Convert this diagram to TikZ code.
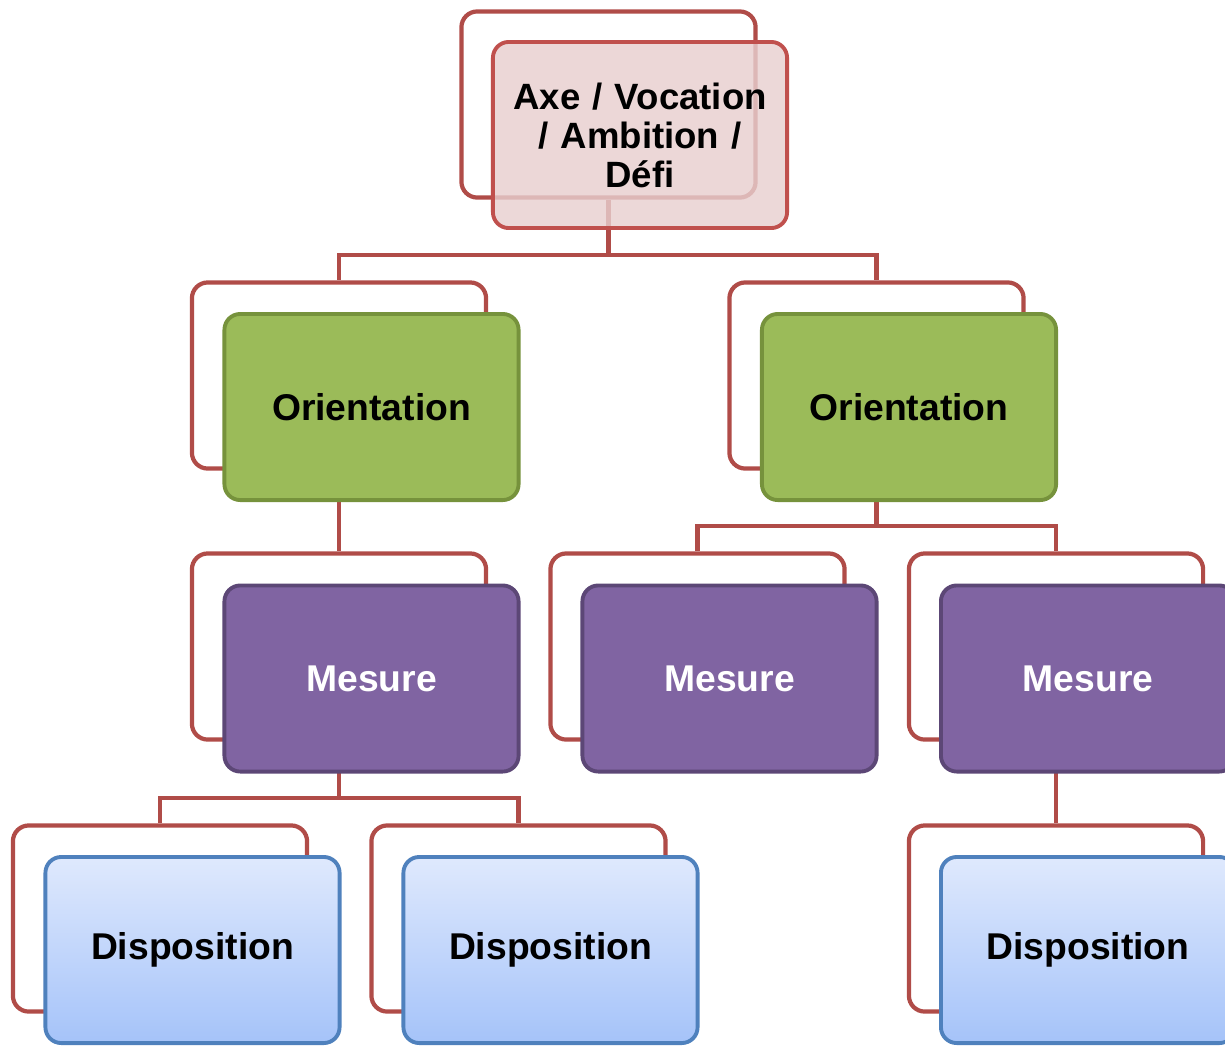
\documentclass[tikz,border=0pt]{standalone}
\usepackage{fontspec}
\setmainfont{Liberation Sans}
\begin{document}
\begin{tikzpicture}[x=0.01cm,y=-0.01cm,
  every node/.style={font=\fontsize{10.6}{10.9}\selectfont\bfseries},
  backframe/.style={draw=framered, line width=1.2pt, fill=white, rounded corners=4.5pt,
    minimum width=2.94cm, minimum height=1.86cm, inner sep=0pt},
  box/.style={rounded corners=4.5pt, minimum width=2.94cm, minimum height=1.86cm,
    line width=1.1pt, align=center, inner sep=2pt},
  topbox/.style={box, draw=topred, fill=toppink, fill opacity=0.82, text opacity=1, text width=2.7cm,
    font=\fontsize{10.4}{11.1}\selectfont\bfseries},
  orientbox/.style={box, draw=greenborder, fill=greenfill, text=black},
  mesurebox/.style={box, draw=purpleborder, fill=purplefill, text=white},
  dispbox/.style={box, draw=blueborder, top color=bluetop, bottom color=bluebottom, text=black},
  link/.style={draw=framered, line width=1.2pt}
]
\definecolor{framered}{HTML}{B04C48}
\definecolor{topred}{HTML}{C0504D}
\definecolor{toppink}{HTML}{E8CFCF}
\definecolor{greenborder}{HTML}{76923C}
\definecolor{greenfill}{HTML}{9BBB59}
\definecolor{purpleborder}{HTML}{5C4776}
\definecolor{purplefill}{HTML}{8064A2}
\definecolor{blueborder}{HTML}{4F81BD}
\definecolor{bluetop}{HTML}{DFE9FD}
\definecolor{bluebottom}{HTML}{A5C3F9}
\useasboundingbox (0,0) rectangle (1225,1045);
\clip (0,0) rectangle (1225,1045);

% back frames
\node[backframe] (topback) at (608.5,104.5) {};
\node[backframe] (oLback) at (339,375.5) {};
\node[backframe] (oRback) at (876.5,375.5) {};
\node[backframe] (mLback) at (339,646.5) {};
\node[backframe] (mMback) at (697.5,646.5) {};
\node[backframe] (mRback) at (1056,646.5) {};
\node[backframe] (dLback) at (160,918.5) {};
\node[backframe] (dMback) at (518.5,918.5) {};
\node[backframe] (dRback) at (1056,918.5) {};

% connectors
\coordinate (j0) at (608.5,255);
\coordinate (j1) at (876.5,526);
\coordinate (j2) at (339,798);
\draw[link] (topback.south) -- (j0);
\draw[link] (j0) -| (oLback.north);
\draw[link] (j0) -| (oRback.north);
\draw[link] (oLback.south) -- (mLback.north);
\draw[link] (oRback.south) -- (j1);
\draw[link] (j1) -| (mMback.north);
\draw[link] (j1) -| (mRback.north);
\draw[link] (mLback.south) -- (j2);
\draw[link] (j2) -| (dLback.north);
\draw[link] (j2) -| (dMback.north);
\draw[link] (mRback.south) -- (dRback.north);

% front boxes
\node[topbox] (top) at (640,135) {Axe / Vocation\\ / Ambition /\\ Défi};
\node[orientbox] (oL) at (371.5,407) {Orientation};
\node[orientbox] (oR) at (909,407) {Orientation};
\node[mesurebox] (mL) at (371.5,678.5) {Mesure};
\node[mesurebox] (mM) at (729.5,678.5) {Mesure};
\node[mesurebox] (mR) at (1088,678.5) {Mesure};
\node[dispbox] (dL) at (192.5,950) {Disposition};
\node[dispbox] (dM) at (550.5,950) {Disposition};
\node[dispbox] (dR) at (1088,950) {Disposition};
\end{tikzpicture}
\end{document}
